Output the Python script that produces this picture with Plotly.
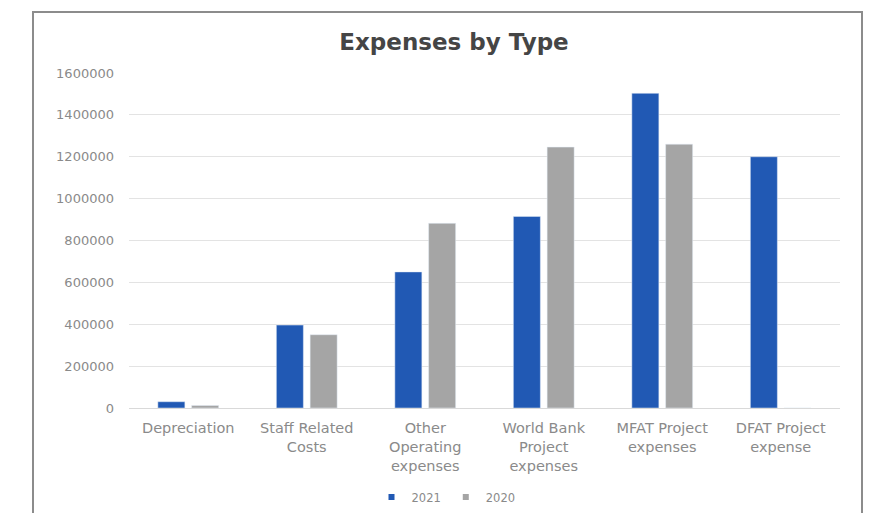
import plotly.graph_objects as go

categories = ["Depreciation", "Staff Related<br>Costs", "Other<br>Operating<br>expenses",
              "World Bank<br>Project<br>expenses", "MFAT Project<br>expenses", "DFAT Project<br>expense"]
series_names = ["2021", "2020"]
values_2021 = [30000, 396000, 650000, 915000, 1503000, 1200000]
values_2020 = [12000, 350000, 882000, 1246000, 1260000, 0]
colors = ["#2159B4", "#A5A5A5"]
y_ticks = [0, 200000, 400000, 600000, 800000, 1000000, 1200000, 1400000, 1600000]

W, H = 871, 513
L, R, T, B = 129, 31, 73, 105
pw, ph = W - L - R, H - T - B

def px(x):
    return (x - L) / pw

def py(y):
    return (H - B - y) / ph

FONT = "DejaVu Sans"
fig = go.Figure()
for name, vals, col in zip(series_names, [values_2021, values_2020], colors):
    fig.add_trace(go.Bar(name=name, x=categories, y=vals, marker_color=col, showlegend=False))
# legend entries with small square swatches
for name, col in zip(series_names, colors):
    fig.add_trace(go.Scatter(name=name, x=[None], y=[None], mode="markers",
                             marker=dict(symbol="square", size=6, color=col), showlegend=True))

fig.update_layout(
    width=W, height=H,
    margin=dict(l=L, r=R, t=T, b=B, autoexpand=False),
    paper_bgcolor="white", plot_bgcolor="white",
    font=dict(family=FONT, color="#8a8a8a"),
    barmode="group", bargap=0.43, bargroupgap=0.2,
    title=dict(text="<b>Expenses by Type</b>", font=dict(size=23, color="#454545", family=FONT),
               x=px(454), xref="paper", xanchor="center",
               y=1 - 42 / H, yref="container", yanchor="middle"),
    legend=dict(orientation="h", x=px(446), xanchor="center", y=1 - 497 / H, yref="container",
                yanchor="middle", font=dict(size=11.5, color="#8a8a8a", family=FONT), itemwidth=30,
                tracegroupgap=0, bgcolor="rgba(0,0,0,0)"),
    xaxis=dict(showgrid=False, showline=True, linecolor="#d9d9d9", linewidth=1,
               tickfont=dict(size=14.5, color="#8a8a8a", family=FONT), ticks="",
               ticklabelstandoff=7),
    yaxis=dict(range=[0, 1600000], tickvals=y_ticks, tickformat="d", showgrid=True,
               gridcolor="#e3e3e3", gridwidth=1, zeroline=False, showline=False,
               tickfont=dict(size=13, color="#8a8a8a", family=FONT), ticks="", ticklabelstandoff=14),
    shapes=[dict(type="rect", xref="paper", yref="paper",
                 x0=px(33), x1=px(862), y0=py(525), y1=py(12),
                 line=dict(color="#8c8c8c", width=2), fillcolor="rgba(0,0,0,0)")],
)

fig.write_html("out.html")
